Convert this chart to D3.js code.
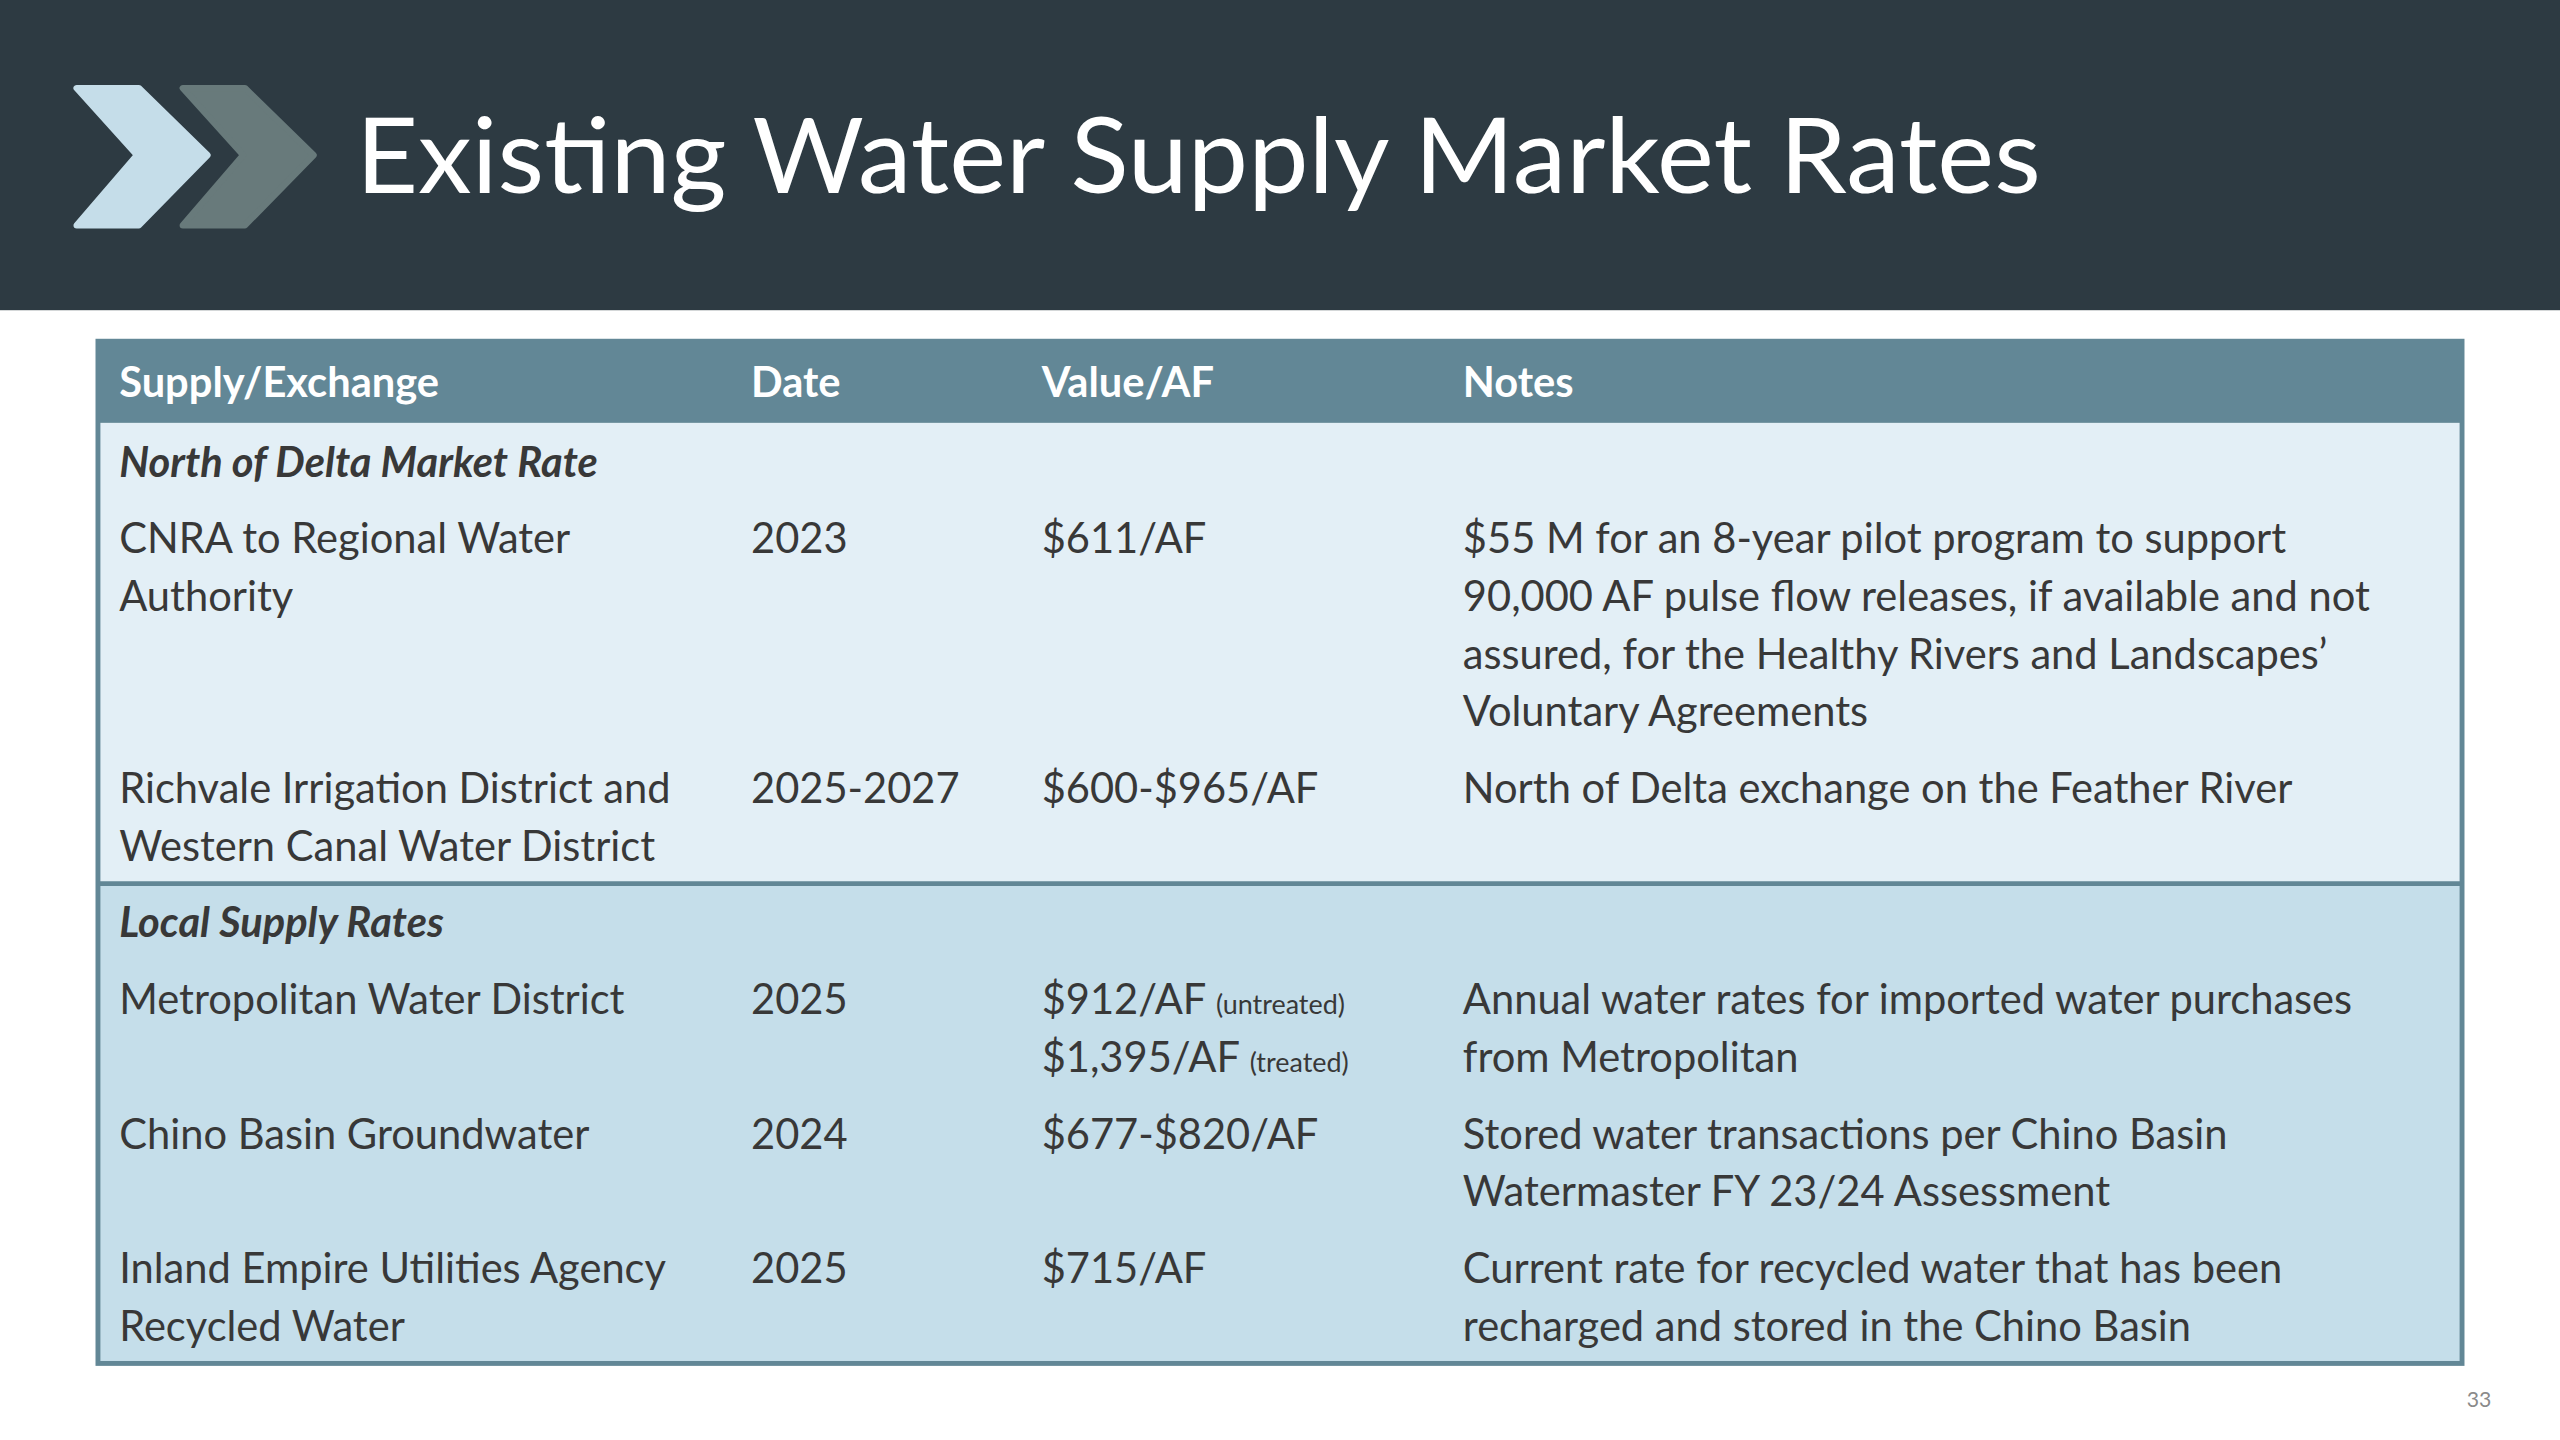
<!DOCTYPE html>
<html><head><meta charset="utf-8">
<script src="https://cdn.jsdelivr.net/npm/d3@7"></script>
<style>body{margin:0;background:#fff}svg{display:block}</style>
</head><body><svg id="slide"></svg>
<script>
const title = "Existing Water Supply Market Rates";
const columns = ["Supply/Exchange", "Date", "Value/AF", "Notes"];
const sections = ["North of Delta Market Rate", "Local Supply Rates"];
// each row: section index, supply lines, date, value lines [main, small], notes lines
const supply = [
  ["CNRA to Regional Water", "Authority"],
  ["Richvale Irrigation District and", "Western Canal Water District"],
  ["Metropolitan Water District"],
  ["Chino Basin Groundwater"],
  ["Inland Empire Utilities Agency", "Recycled Water"]
];
const rowSection = [0, 0, 1, 1, 1];
const dates = ["2023", "2025-2027", "2025", "2024", "2025"];
const values = [
  [["$611/AF", ""]],
  [["$600-$965/AF", ""]],
  [["$912/AF ", "(untreated)"], ["$1,395/AF ", "(treated)"]],
  [["$677-$820/AF", ""]],
  [["$715/AF", ""]]
];
const notes = [
  ["$55 M for an 8-year pilot program to support", "90,000 AF pulse flow releases, if available and not", "assured, for the Healthy Rivers and Landscapes\u2019", "Voluntary Agreements"],
  ["North of Delta exchange on the Feather River"],
  ["Annual water rates for imported water purchases", "from Metropolitan"],
  ["Stored water transactions per Chino Basin", "Watermaster FY 23/24 Assessment"],
  ["Current rate for recycled water that has been", "recharged and stored in the Chino Basin"]
];
const pageNumber = "33";

const W = 2560, H = 1440, u = W / 1568;
const font = "Lato, 'Open Sans', sans-serif";
const svg = d3.select("#slide").attr("width", W).attr("height", H);
const g = svg.append("g").attr("transform", `scale(${u})`);

// header band
g.append("rect").attr("width", 1568).attr("height", 190).attr("fill", "#2d3a42");
const chev = (x0, c) => g.append("path")
  .attr("d", `M${x0},54 L${x0+38},54 L${x0+80},95 L${x0+38},138 L${x0},138 L${x0+37},95 Z`)
  .attr("fill", c).attr("stroke", c).attr("stroke-width", 4).attr("stroke-linejoin", "round");
chev(47, "#c5dde9");
chev(112, "#687a7b");
g.append("text").attr("x", 218).attr("y", 118).attr("fill", "#fff")
  .attr("font-family", font).attr("font-size", 64)
  .attr("textLength", 1032).attr("lengthAdjust", "spacingAndGlyphs").text(title);

// table geometry
const colX = d3.scaleOrdinal().domain(columns).range([73, 460, 638, 896]);
const tx = 60, tw = 1448, headTop = 209, headH = 50;
const lh = 35.3, gap = 47, pad = 23;
const fs = 25.5, ink = "#383838";

// compute layout
let y = headTop + headH;
const secBounds = [];
const lines = [];
sections.forEach((s, si) => {
  const top = y;
  let c = top + pad + 1;
  lines.push({x: colX(columns[0]), y: c, t: s, sec: true});
  let last = c;
  rowSection.forEach((rs, i) => {
    if (rs !== si) return;
    c = last + gap;
    supply[i].forEach((t, k) => lines.push({x: colX(columns[0]), y: c + k * lh, t}));
    lines.push({x: colX(columns[1]), y: c, t: dates[i]});
    values[i].forEach((v, k) => lines.push({x: colX(columns[2]), y: c + k * lh, t: v[0], small: v[1]}));
    notes[i].forEach((t, k) => lines.push({x: colX(columns[3]), y: c + k * lh, t}));
    last = c + (Math.max(supply[i].length, notes[i].length, values[i].length) - 1) * lh;
  });
  y = last + pad;
  secBounds.push([top, y]);
});

const fills = ["#e3eff6", "#c5deea"];
secBounds.forEach((b, i) => g.append("rect").attr("x", tx).attr("y", b[0])
  .attr("width", tw).attr("height", b[1] - b[0]).attr("fill", fills[i]));
g.append("line").attr("x1", tx).attr("x2", tx + tw).attr("y1", secBounds[1][0]).attr("y2", secBounds[1][0])
  .attr("stroke", "#628796").attr("stroke-width", 3);
g.append("rect").attr("x", tx).attr("y", headTop).attr("width", tw).attr("height", headH).attr("fill", "#628796");
g.append("rect").attr("x", tx).attr("y", headTop).attr("width", tw).attr("height", y - headTop)
  .attr("fill", "none").attr("stroke", "#628796").attr("stroke-width", 3);

g.selectAll("text.head").data(columns).join("text").attr("class", "head")
  .attr("x", d => colX(d)).attr("y", headTop + headH / 2 + 9)
  .attr("font-family", font).attr("font-size", fs).attr("font-weight", 700)
  .attr("fill", "#fff").text(d => d);

const tt = g.selectAll("text.cell").data(lines).join("text").attr("class", "cell")
  .attr("x", d => d.x).attr("y", d => d.y + 9)
  .attr("font-family", font).attr("font-size", fs).attr("fill", ink)
  .attr("font-weight", d => d.sec ? 700 : 400).attr("font-style", d => d.sec ? "italic" : "normal");
tt.append("tspan").text(d => d.t);
tt.filter(d => d.small).append("tspan").attr("font-size", 16.5).text(d => d.small);

g.append("text").attr("x", 1526).attr("y", 862).attr("text-anchor", "end")
  .attr("font-family", font).attr("font-size", 13).attr("fill", "#8a8a8a").text(pageNumber);
</script></body></html>
